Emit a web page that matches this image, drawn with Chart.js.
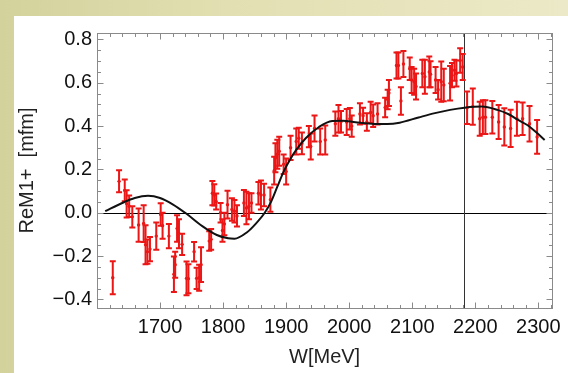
<!DOCTYPE html>
<html>
<head>
<meta charset="utf-8">
<script src="https://cdn.jsdelivr.net/npm/chart.js@4.4.1/dist/chart.umd.min.js"></script>
<style>
  html, body { margin: 0; padding: 0; }
  body {
    width: 568px; height: 373px; overflow: hidden; position: relative;
    background: linear-gradient(90deg, #d3d29c 0px, #e2dfb2 40%, #ece9c8 100%);
  }
  #panel {
    position: absolute; left: 14px; top: 16px; width: 554px; height: 357px;
    background: #fff;
  }
</style>
</head>
<body>
<div id="panel"><canvas id="chart-area" width="554" height="357"></canvas></div>
<script>
// measured points, W in MeV
var W = [1625, 1635, 1644, 1647, 1651, 1656, 1666, 1674, 1677, 1680, 1684, 1694, 1701, 1704, 1714,
  1722, 1724, 1727, 1730, 1735, 1742, 1745, 1754, 1758, 1762, 1765,
  1778, 1781, 1783, 1786, 1789, 1796, 1799, 1802, 1807, 1814, 1818, 1822, 1833, 1837, 1841, 1845,
  1856, 1860, 1865, 1875, 1881, 1883, 1886, 1889, 1896, 1900, 1907,
  1916, 1920, 1925, 1936, 1939, 1945, 1954, 1962, 1978, 1983, 1987, 1996, 2001, 2004,
  2017, 2022, 2028, 2034, 2038, 2045, 2057, 2061, 2063, 2075, 2078, 2082, 2086,
  2096, 2099, 2103, 2106, 2116, 2120, 2127, 2129, 2137, 2141, 2146, 2150, 2160, 2163, 2167, 2170,
  2176, 2180, 2187, 2196, 2207, 2212, 2216, 2227, 2237, 2246, 2256, 2266, 2275, 2286, 2298];
var reM1 = [-0.30, 0.145, 0.103, 0.041, 0.03, -0.019, -0.057, -0.05, -0.148, -0.18, -0.168, -0.108, -0.008, -0.06, -0.108,
  -0.284, -0.24, -0.073, -0.097, -0.146, -0.303, -0.305, -0.18, -0.303, -0.30, -0.24,
  -0.131, -0.123, 0.09, 0.082, 0.052, 0.0, -0.082, -0.052, 0.037, 0.015, 0.007, -0.015, 0.045, 0.022, 0.03, 0.045,
  0.09, 0.082, 0.082, 0.06, 0.194, 0.254, 0.27, 0.284, 0.224, 0.19, 0.30,
  0.329, 0.344, 0.32, 0.351, 0.306, 0.389, 0.329, 0.336, 0.411, 0.434, 0.42, 0.419, 0.434, 0.40,
  0.456, 0.448, 0.419, 0.463, 0.448, 0.456, 0.486, 0.523, 0.553, 0.68, 0.68, 0.516, 0.687,
  0.665, 0.613, 0.605, 0.583, 0.643, 0.628, 0.65, 0.64, 0.613, 0.568, 0.605, 0.59, 0.598, 0.635, 0.658, 0.643,
  0.703, 0.673, 0.485, 0.49, 0.434, 0.441, 0.441, 0.441, 0.419, 0.396, 0.389, 0.434, 0.434, 0.411, 0.35];
var err = [0.076, 0.051, 0.05, 0.063, 0.05, 0.049, 0.077, 0.085, 0.09, 0.056, 0.056, 0.063, 0.052, 0.06, 0.056,
  0.082, 0.06, 0.061, 0.067, 0.049, 0.078, 0.067, 0.045, 0.049, 0.06, 0.08,
  0.045, 0.048, 0.056, 0.049, 0.037, 0.045, 0.052, 0.052, 0.064, 0.052, 0.052, 0.049, 0.06, 0.075, 0.06, 0.045,
  0.052, 0.067, 0.052, 0.056, 0.064, 0.067, 0.067, 0.067, 0.045, 0.06, 0.056,
  0.06, 0.049, 0.05, 0.049, 0.06, 0.06, 0.06, 0.067, 0.056, 0.064, 0.05, 0.06, 0.05, 0.049,
  0.049, 0.037, 0.04, 0.049, 0.052, 0.049, 0.045, 0.045, 0.06, 0.06, 0.06, 0.064, 0.06,
  0.052, 0.06, 0.06, 0.06, 0.064, 0.078, 0.071, 0.06, 0.06, 0.045, 0.093, 0.075, 0.08, 0.056, 0.049, 0.06,
  0.056, 0.06, 0.075, 0.084, 0.078, 0.078, 0.078, 0.075, 0.078, 0.086, 0.086, 0.078, 0.075, 0.082, 0.078];

// fit curve
var fitW = [1613, 1640, 1660, 1681, 1700, 1720, 1742, 1767, 1790, 1808, 1818, 1838, 1852, 1866, 1876, 1886,
  1896, 1906, 1916, 1931, 1952, 1973, 1990, 2010, 2040, 2060, 2080, 2110, 2136, 2160, 2183, 2210,
  2235, 2252, 2270, 2283, 2297, 2310];
var fitV = [0.007, 0.045, 0.068, 0.078, 0.068, 0.039, -0.005, -0.062, -0.103, -0.118, -0.12, -0.09, -0.05, 0.0, 0.05, 0.12,
  0.19, 0.245, 0.29, 0.344, 0.396, 0.424, 0.425, 0.418, 0.41, 0.41, 0.416, 0.44, 0.46, 0.475, 0.485, 0.49,
  0.475, 0.456, 0.425, 0.404, 0.37, 0.336];

var markerW = 2182;
var xTicks = [1700, 1800, 1900, 2000, 2100, 2200, 2300];
var yTicks = [-0.4, -0.2, 0.0, 0.2, 0.4, 0.6, 0.8];

var red = 'rgb(235, 22, 22)';
var labelFont = { family: 'Liberation Sans, Arial, sans-serif', size: 20 };

var points = [];
for (var i = 0; i < W.length; i++) points.push({ x: W[i], y: reM1[i] });
var fit = [];
for (var j = 0; j < fitW.length; j++) fit.push({ x: fitW[j], y: fitV[j] });

var framePlugin = {
  id: 'frame',
  beforeDatasetsDraw: function (chart) {
    var ctx = chart.ctx, a = chart.chartArea, xs = chart.scales.x, ys = chart.scales.y;
    ctx.save();
    // axis lines through origin / marker
    ctx.strokeStyle = '#000';
    ctx.lineWidth = 1;
    var y0 = Math.round(ys.getPixelForValue(0)) + 0.5;
    ctx.beginPath(); ctx.moveTo(a.left, y0); ctx.lineTo(a.right, y0); ctx.stroke();
    ctx.strokeStyle = '#333';
    var xm = Math.round(xs.getPixelForValue(markerW)) + 0.5;
    ctx.beginPath(); ctx.moveTo(xm, a.top); ctx.lineTo(xm, a.bottom); ctx.stroke();

    // error bars
    ctx.strokeStyle = red;
    ctx.lineWidth = 2;
    for (var i = 0; i < W.length; i++) {
      var px = xs.getPixelForValue(W[i]);
      var top = ys.getPixelForValue(reM1[i] + err[i]);
      var bot = ys.getPixelForValue(reM1[i] - err[i]);
      ctx.beginPath();
      ctx.moveTo(px, top); ctx.lineTo(px, bot);
      ctx.moveTo(px - 3, top); ctx.lineTo(px + 3, top);
      ctx.moveTo(px - 3, bot); ctx.lineTo(px + 3, bot);
      ctx.stroke();
    }
    ctx.restore();
  },
  afterDraw: function (chart) {
    var ctx = chart.ctx, a = chart.chartArea, xs = chart.scales.x, ys = chart.scales.y;
    ctx.save();
    ctx.strokeStyle = '#8a8a8a';
    ctx.lineWidth = 1;
    var L = Math.round(a.left) + 0.5, R = Math.round(a.right) + 0.5;
    var T = Math.round(a.top) + 0.5, B = Math.round(a.bottom) + 0.5;
    ctx.strokeRect(L, T, R - L, B - T);
    ctx.beginPath();
    for (var v = 1600; v <= 2320; v += 20) {
      var len = (v % 100 === 0) ? 6 : 3.5;
      var px = Math.round(xs.getPixelForValue(v)) + 0.5;
      ctx.moveTo(px, B); ctx.lineTo(px, B - len);
      ctx.moveTo(px, T); ctx.lineTo(px, T + len);
    }
    for (var k = -8; k <= 16; k++) {
      var val = k * 0.05;
      var l2 = (k % 4 === 0) ? 6 : 3.5;
      var py = Math.round(ys.getPixelForValue(val)) + 0.5;
      ctx.moveTo(L, py); ctx.lineTo(L + l2, py);
      ctx.moveTo(R, py); ctx.lineTo(R - l2, py);
    }
    ctx.stroke();
    ctx.restore();
  }
};

var config = {
  type: 'scatter',
  data: {
    datasets: [{
      label: 'fit',
      type: 'line',
      data: fit,
      borderColor: '#111',
      borderWidth: 2,
      pointRadius: 0,
      cubicInterpolationMode: 'monotone',
      fill: false
    }, {
      label: 'ReM1+',
      data: points,
      backgroundColor: red,
      borderColor: red,
      pointRadius: 1.7,
      borderWidth: 0
    }]
  },
  options: {
    responsive: false,
    animation: false,
    devicePixelRatio: 1,
    layout: { padding: { top: 9, right: 13, left: 0, bottom: 0 } },
    plugins: { legend: { display: false }, tooltip: { enabled: false } },
    scales: {
      x: {
        type: 'linear',
        min: 1600,
        max: 2322,
        grid: { display: false, drawTicks: false },
        border: { display: false },
        afterBuildTicks: function (s) { s.ticks = xTicks.map(function (v) { return { value: v }; }); },
        afterFit: function (s) { s.height = 65; },
        ticks: { font: labelFont, color: '#111', padding: 7, maxRotation: 0, autoSkip: false,
          callback: function (v) { return String(v); } },
        title: { display: true, text: 'W[MeV]', font: labelFont, color: '#222', padding: { top: 0, bottom: 4 } }
      },
      y: {
        min: -0.44,
        max: 0.83,
        grid: { display: false, drawTicks: false },
        border: { display: false },
        afterBuildTicks: function (s) { s.ticks = yTicks.map(function (v) { return { value: v }; }); },
        afterFit: function (s) { s.width = 83; },
        ticks: { font: labelFont, color: '#111', padding: 5, autoSkip: false,
          callback: function (v) { var t = Math.abs(v).toFixed(1); return v < -1e-9 ? '\u2212' + t : t; } },
        title: { display: true, text: 'ReM1+  [mfm]', font: labelFont, color: '#222', padding: { top: 1, bottom: 0 } }
      }
    }
  },
  plugins: [framePlugin]
};

var ctx = document.getElementById('chart-area').getContext('2d');
window.myChart = new Chart(ctx, config);
</script>
</body>
</html>
